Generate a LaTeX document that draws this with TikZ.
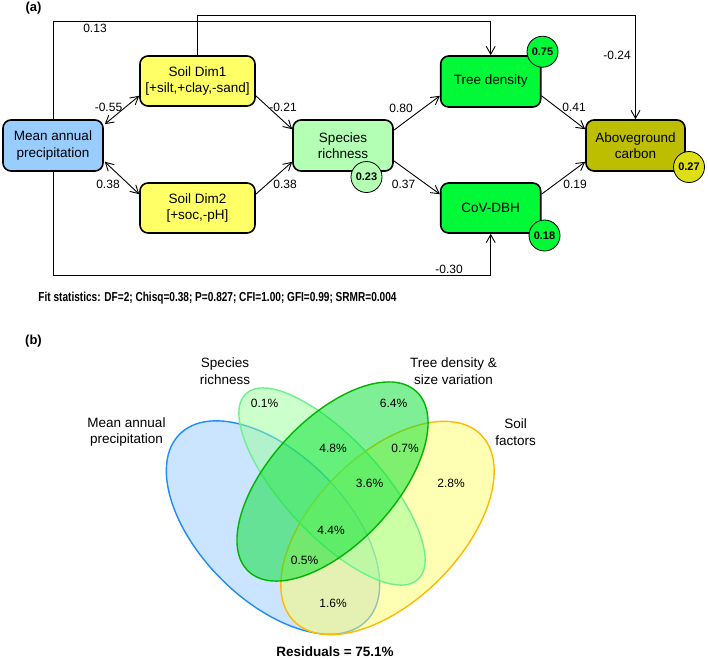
\documentclass[tikz,border=0pt]{standalone}
\usepackage{fontspec}
\setmainfont{Liberation Sans}
\usepackage{graphicx}
\usetikzlibrary{arrows.meta,calc}
\definecolor{mapblue}{RGB}{153,204,255}
\definecolor{soilyellow}{RGB}{255,255,102}
\definecolor{srgreen}{RGB}{179,255,179}
\definecolor{tdgreen}{RGB}{0,250,55}
\definecolor{agcolive}{RGB}{190,190,0}
\definecolor{agcyellow}{RGB}{222,222,20}
\definecolor{vblue}{RGB}{153,203,255}
\definecolor{vblueS}{RGB}{30,140,250}
\definecolor{vyel}{RGB}{255,255,105}
\definecolor{vyelS}{RGB}{255,185,0}
\definecolor{vsr}{RGB}{153,255,153}
\definecolor{vsrS}{RGB}{110,240,140}
\definecolor{vtd}{RGB}{1,225,45}
\definecolor{vtdS}{RGB}{0,180,0}
\begin{document}
\begin{tikzpicture}[x=1pt,y=-1pt,
  box/.style={draw=black, line width=1.6pt, rounded corners=8pt, minimum width=100pt, minimum height=51pt, align=center, font=\fontsize{13.5}{16.5}\selectfont, inner sep=0pt},
  rsq/.style={circle, draw=black, line width=0.8pt, minimum size=31pt, inner sep=0pt, font=\fontsize{11}{12}\selectfont\bfseries},
  conn/.style={line width=0.9pt, -{Straight Barb[length=8pt,width=9pt]}},
  both/.style={line width=0.9pt, {Straight Barb[length=8pt,width=9pt]}-{Straight Barb[length=8pt,width=9pt]}},
  lab/.style={font=\fontsize{12}{14}\selectfont, inner sep=0pt},
  vlab/.style={font=\fontsize{13.5}{16.5}\selectfont, align=center, inner sep=0pt},
  pct/.style={font=\fontsize{12}{14}\selectfont, inner sep=0pt},
  venn/.style={fill opacity=0.5, line width=1.4pt}
]
\useasboundingbox[fill=white] (0,0) rectangle (708,659);

% ---------- (a) ----------
\node[font=\fontsize{13}{15}\selectfont\bfseries, inner sep=0pt] (pa) at (33.5,8.5) {(a)};

\node[box, fill=mapblue] (map) at (53,145.5) {Mean annual\\precipitation};
\node[box, fill=soilyellow, minimum width=115pt, minimum height=50pt] (sd1) at (197.5,81) {Soil Dim1\\{}[+silt,+clay,-sand]};
\node[box, fill=soilyellow, minimum width=115pt, minimum height=50pt] (sd2) at (197.5,208) {Soil Dim2\\{}[+soc,-pH]};
\node[box, fill=srgreen] (sr) at (343,145.5) {Species\\richness};
\node[box, fill=tdgreen] (td) at (490.7,81.5) {Tree density};
\node[box, fill=tdgreen, minimum height=50pt] (cov) at (490.7,208) {CoV-DBH};
\node[box, fill=agcolive, minimum width=99pt] (agc) at (635.5,145.5) {Aboveground\\carbon};

\coordinate (t1) at (0,21.7);
\coordinate (t2) at (0,15);
\coordinate (b1) at (0,275);

\draw[conn] (map.north) -- (map.north |- t1) -| (td.north);
\draw[conn] (sd1.north) -- (sd1.north |- t2) -| (agc.north);
\draw[conn] (map.south) -- (map.south |- b1) -| (cov.south);

\draw[both] ([xshift=1pt,yshift=-5pt]map.north east) -- ([yshift=11pt]sd1.south west);
\draw[both] ([xshift=1pt,yshift=10pt]map.south east) -- ([yshift=-12pt]sd2.north west);
\draw[conn] ([yshift=11pt]sd1.south east) -- ([yshift=-10pt]sr.north west);
\draw[conn] ([yshift=-12pt]sd2.north east) -- ([yshift=10pt]sr.south west);
\draw[conn] ([yshift=-11pt]sr.north east) -- ([yshift=12pt]td.south west);
\draw[conn] ([yshift=11pt]sr.south east) -- ([yshift=-12pt]cov.north west);
\draw[conn] ([yshift=12pt]td.south east) -- ([yshift=-10pt]agc.north west);
\draw[conn] ([yshift=-12pt]cov.north east) -- ([yshift=10pt]agc.south west);

\node[rsq, fill=tdgreen] (c75) at (542.5,51.7) {0.75};
\node[rsq, fill=srgreen] (c23) at (366.5,177) {0.23};
\node[rsq, fill=tdgreen] (c18) at (544.5,235.5) {0.18};
\node[rsq, fill=agcyellow] (c27) at (689,167) {0.27};

\node[lab] (l13) at (95,28) {0.13};
\node[lab] (l24) at (617,55) {-0.24};
\node[lab] (l30) at (449,269) {-0.30};
\node[lab] (l55) at (108.5,107) {-0.55};
\node[lab] (l38a) at (108,184) {0.38};
\node[lab] (l21) at (283,107) {-0.21};
\node[lab] (l38b) at (285,184) {0.38};
\node[lab] (l80) at (401,108) {0.80};
\node[lab] (l37) at (403.5,184) {0.37};
\node[lab] (l41) at (574,107) {0.41};
\node[lab] (l19) at (575,184) {0.19};

\node[inner sep=0pt] (fit) at (217.5,298.5) {\resizebox{358pt}{\height}{\fontsize{13}{15}\selectfont\bfseries Fit statistics: DF=2; Chisq=0.38; P=0.827; CFI=1.00; GFI=0.99; SRMR=0.004}};

% ---------- (b) ----------
\node[font=\fontsize{13}{15}\selectfont\bfseries, inner sep=0pt] (pb) at (33.5,341) {(b)};

\path[venn, fill=vblue, draw=vblueS, rotate around={-45:(273,527.5)}] (273,527.5) ellipse [x radius=132pt, y radius=73pt];
\path[venn, fill=vyel, draw=vyelS, rotate around={45:(387.5,528)}] (387.5,528) ellipse [x radius=132pt, y radius=73pt];
\path[venn, fill=vsr, draw=vsrS, rotate around={-47.2:(332,486.5)}] (332,486.5) ellipse [x radius=126.6pt, y radius=48.5pt];
\path[venn, fill=vtd, draw=vtdS, rotate around={47:(332.5,481.5)}] (332.5,481.5) ellipse [x radius=123pt, y radius=62.5pt];

\node[vlab] (vsrl) at (225,371) {Species\\richness};
\node[vlab] (vmapl) at (126.5,432) {Mean annual\\precipitation};
\node[vlab] (vtdl) at (453.5,371) {Tree density \&\\size variation};
\node[vlab] (vsoill) at (515.5,432) {Soil\\factors};

\node[pct] (p01) at (264.5,403) {0.1\%};
\node[pct] (p48) at (333,448) {4.8\%};
\node[pct] (p64) at (393.5,403) {6.4\%};
\node[pct] (p07) at (405,448) {0.7\%};
\node[pct] (p36) at (369.5,483) {3.6\%};
\node[pct] (p28) at (451,483) {2.8\%};
\node[pct] (p44) at (331,530) {4.4\%};
\node[pct] (p05) at (304.5,560) {0.5\%};
\node[pct] (p16) at (333,603) {1.6\%};
\node[font=\fontsize{13.5}{15}\selectfont\bfseries, inner sep=0pt] (res) at (335,652) {Residuals = 75.1\%};
\end{tikzpicture}
\end{document}
